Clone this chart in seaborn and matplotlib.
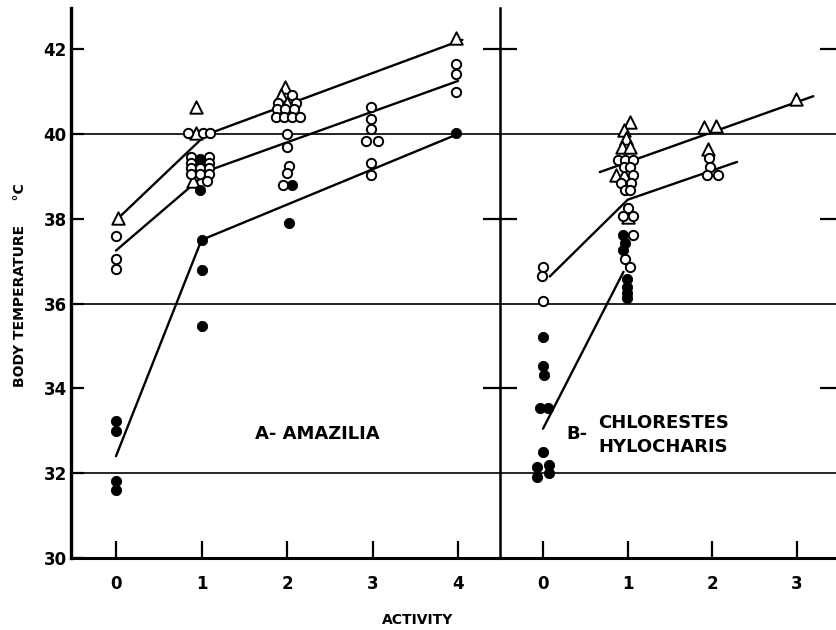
import matplotlib
matplotlib.use("Agg")
import matplotlib.pyplot as plt
import seaborn as sns

# ---- Panel A (Amazilia) ----
a_tri_x = [0.02, 0.93, 0.93, 0.90, 1.98, 1.93, 2.00, 3.98]
a_tri_y = [38.02, 40.64, 40.02, 38.90, 41.10, 40.92, 40.72, 42.26]

a_open_x = [0.0, 0.0, 0.0,
            0.84, 1.02, 1.10, 0.88, 1.09, 0.88, 1.09, 0.88, 0.98, 1.09,
            0.88, 0.98, 1.09, 1.06,
            2.06, 1.90, 2.10, 1.88, 1.98, 2.08, 1.87, 1.96, 2.06, 2.15,
            2.00, 2.00, 2.02, 2.00, 1.95,
            2.98, 2.98, 2.98, 2.92, 3.06, 2.98, 2.98,
            3.98, 3.98, 3.98]
a_open_y = [37.60, 37.06, 36.82,
            40.02, 40.02, 40.02, 39.46, 39.46, 39.32, 39.32, 39.20, 39.20, 39.20,
            39.06, 39.06, 39.06, 38.90,
            40.92, 40.72, 40.72, 40.58, 40.58, 40.58, 40.40, 40.40, 40.40, 40.40,
            40.00, 39.70, 39.25, 39.08, 38.80,
            40.64, 40.35, 40.12, 39.84, 39.84, 39.32, 39.04,
            41.65, 41.41, 41.00]

a_fill_x = [0.0, 0.0, 0.0, 0.0, 0.98, 0.98, 1.0, 1.0, 1.0, 2.06, 2.02, 3.98]
a_fill_y = [33.22, 33.00, 31.81, 31.60, 39.40, 38.68, 37.50, 36.80, 35.46, 38.80, 37.90, 40.02]

a_tri_line_x = [0.03, 1.05, 4.05]
a_tri_line_y = [38.02, 39.98, 42.22]
a_open_line_x = [0.0, 1.10, 4.0]
a_open_line_y = [37.25, 39.15, 41.25]
a_fill_line_x = [0.0, 1.0, 4.0]
a_fill_line_y = [32.40, 37.50, 40.00]

# ---- Panel B (Chlorestes, Hylocharis) ----
b_tri_x = [1.03, 0.95, 0.98, 0.93, 1.03, 0.86, 0.96, 1.00, 1.90, 2.04, 1.95, 2.99]
b_tri_y = [40.28, 40.10, 39.90, 39.70, 39.70, 39.03, 39.03, 38.05, 40.17, 40.19, 39.65, 40.82]

b_open_x = [0.0, -0.01, 0.0,
            0.89, 0.97, 1.06, 0.95, 1.03, 1.06, 0.92, 1.04, 0.97, 1.03,
            1.00, 0.94, 1.06, 1.06, 0.97, 1.03,
            1.96, 1.97, 1.93, 2.06]
b_open_y = [36.87, 36.64, 36.05,
            39.39, 39.39, 39.39, 39.23, 39.23, 39.03, 38.85, 38.85, 38.68, 38.68,
            38.26, 38.07, 38.07, 37.62, 37.04, 36.87,
            39.44, 39.23, 39.03, 39.03]

b_fill_x = [0.0, 0.0, 0.01, -0.04, 0.06, 0.0, -0.07, 0.07, -0.07, 0.07,
            0.94, 0.97, 0.94, 0.99, 0.99, 0.99, 0.99]
b_fill_y = [35.22, 34.52, 34.31, 33.53, 33.53, 32.50, 32.15, 32.20, 31.90, 32.00,
            37.62, 37.43, 37.27, 36.57, 36.40, 36.26, 36.12]

b_tri_line_x = [0.67, 3.19]
b_tri_line_y = [39.10, 40.89]
b_open_line_x = [0.08, 1.0, 2.29]
b_open_line_y = [36.64, 38.45, 39.34]
b_fill_line_x = [0.0, 0.95]
b_fill_line_y = [33.05, 36.75]

a_ticks = [0, 1, 2, 3, 4]
b_ticks = [0, 1, 2, 3]
y_ticks = [30, 32, 34, 36, 38, 40, 42]
grid_y = [32, 36, 40]

sns.set_style("white")
plt.rcParams['font.family'] = ['DejaVu Sans']
plt.rcParams['font.weight'] = 'bold'
plt.rcParams['text.color'] = 'black'
plt.rcParams['axes.edgecolor'] = 'black'
plt.rcParams['xtick.color'] = 'black'
plt.rcParams['ytick.color'] = 'black'

fig = plt.figure(figsize=(8.37, 6.3), dpi=100)
bottom = 1 - 558 / 630
height = (558 - 8) / 630
ax_a = fig.add_axes([71 / 837, bottom, 429 / 837, height])
ax_b = fig.add_axes([500 / 837, bottom, 337 / 837, height])
ax_b.patch.set_visible(False)

open_kw = dict(color='white', edgecolor='black', linewidth=1.4, zorder=3)
lw = 1.7


def draw(ax, tx, ty, ox, oy, fx, fy, lines):
    for lx, ly in lines:
        sns.lineplot(x=lx, y=ly, ax=ax, color='black', lw=lw, estimator=None, sort=False)
    sns.scatterplot(x=tx, y=ty, ax=ax, marker='^', s=80, **open_kw)
    sns.scatterplot(x=ox, y=oy, ax=ax, marker='o', s=45, **open_kw)
    sns.scatterplot(x=fx, y=fy, ax=ax, marker='o', s=55, color='black',
                    edgecolor='black', zorder=4)
    for g in grid_y:
        ax.axhline(g, color='black', lw=1.2, zorder=1)


draw(ax_a, a_tri_x, a_tri_y, a_open_x, a_open_y, a_fill_x, a_fill_y,
     [(a_tri_line_x, a_tri_line_y), (a_open_line_x, a_open_line_y),
      (a_fill_line_x, a_fill_line_y)])
draw(ax_b, b_tri_x, b_tri_y, b_open_x, b_open_y, b_fill_x, b_fill_y,
     [(b_tri_line_x, b_tri_line_y), (b_open_line_x, b_open_line_y),
      (b_fill_line_x, b_fill_line_y)])

ax_a.set_xlim(-0.526, 4.49)
ax_b.set_xlim(-0.508, 3.47)
for ax in (ax_a, ax_b):
    ax.set_ylim(30, 42.97)
    ax.set_xlabel("")
    ax.set_ylabel("")
    ax.spines['top'].set_visible(False)
    ax.spines['bottom'].set_linewidth(2.2)
    ax.spines['bottom'].set_color('black')

ax_a.set_xticks(a_ticks)
ax_b.set_xticks(b_ticks)
ax_a.set_xticklabels([str(t) for t in a_ticks], fontsize=12, fontweight='bold')
ax_b.set_xticklabels([str(t) for t in b_ticks], fontsize=12, fontweight='bold')

ax_a.set_yticks(y_ticks)
ax_a.set_yticklabels([str(t) for t in y_ticks], fontsize=12, fontweight='bold')
ax_a.spines['left'].set_linewidth(2.4)
ax_a.spines['left'].set_color('black')
ax_a.spines['right'].set_linewidth(1.8)
ax_a.spines['right'].set_color('black')
ax_a.tick_params(axis='y', direction='in', length=9, width=1.6, pad=3, left=True)
ax_a.tick_params(axis='x', direction='in', length=12, width=1.6, pad=12, bottom=True)

ax_b.set_yticks([34, 38, 42])
ax_b.set_yticklabels([])
ax_b.spines['left'].set_visible(False)
ax_b.spines['right'].set_visible(False)
ax_b.tick_params(axis='y', direction='inout', length=24, width=1.6, left=True, right=True)
ax_b.tick_params(axis='x', direction='in', length=12, width=1.6, pad=12, bottom=True)

ax_a.text(1.63, 32.92, "A- AMAZILIA", fontsize=13, fontweight='bold', va='center')
ax_b.text(0.28, 32.92, "B-", fontsize=13, fontweight='bold', va='center')
ax_b.text(0.65, 33.18, "CHLORESTES", fontsize=13, fontweight='bold', va='center')
ax_b.text(0.65, 32.62, "HYLOCHARIS", fontsize=13, fontweight='bold', va='center')

fig.text(0.024, 0.548, "BODY TEMPERATURE     °C", rotation=90, fontsize=10,
         fontweight='bold', ha='center', va='center')
fig.text(418 / 837, 1 - 620 / 630, "ACTIVITY", fontsize=10, fontweight='bold',
         ha='center', va='center')

fig.savefig("out.png", dpi=100)
